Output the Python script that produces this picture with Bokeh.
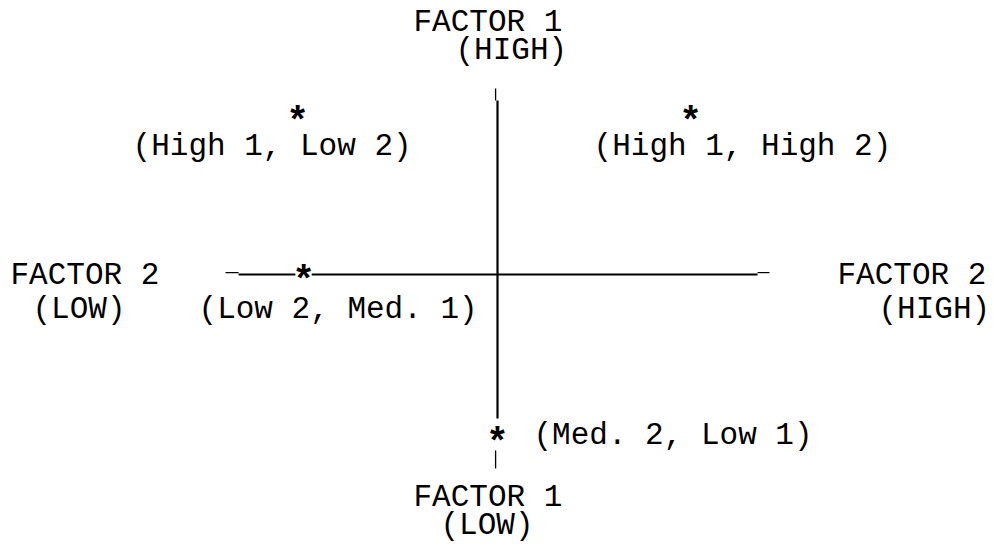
from bokeh.plotting import figure
from bokeh.models import ColumnDataSource, Range1d
from bokeh.core.properties import value
from bokeh.embed import file_html
from bokeh.resources import INLINE

# ---- data -------------------------------------------------------------
point_labels = ["(High 1, Low 2)", "(High 1, High 2)", "(Low 2, Med. 1)", "(Med. 2, Low 1)"]
factor2_scores = [-0.735, 0.71, -0.713, 0.0]      # horizontal (Factor 2)
factor1_scores = [0.837, 0.837, 0.0, -0.853]      # vertical (Factor 1)

pole_titles = ["FACTOR 1", "FACTOR 1", "FACTOR 2", "FACTOR 2"]
pole_levels = ["(HIGH)", "(LOW)", "(LOW)", "(HIGH)"]
pole_x = [0.0, 0.0, -1.0, 1.0]
pole_y = [0.979, -1.021, 0.0, 0.0]

# ---- layout / style -----------------------------------------------------
FONT = value("Liberation Mono")
FS = "31px"
W, H = 992, 545
PX_X, PX_Y = 272.0, 190.0          # pixels per unit
CX, CY = 497.0, 274.0              # centre in figure pixels

# label offsets in screen pixels (left edge, vertical centre)
label_dx = [-165, -97, -105, 36]
label_dy = [31, 31, 35, -1]
title_dx = [-84, -84, -215, 68]
title_dy = [-66, 29, 1, 1]
level_dx = [-42, -57, -193, 109]
level_dy = [-38, 57, 35, 35]

p = figure(width=W, height=H, output_backend="svg", toolbar_location=None,
           x_range=Range1d(-CX / PX_X, (W - CX) / PX_X),
           y_range=Range1d(-(H - CY) / PX_Y, CY / PX_Y),
           min_border=0, outline_line_color=None)
p.xaxis.visible = False
p.yaxis.visible = False
p.xgrid.visible = False
p.ygrid.visible = False

# axes of the factor space
gap = 0.04
sx3 = factor2_scores[2]
sy4 = factor1_scores[3]
p.segment(x0=[-0.952, sx3 + gap * 0.75], y0=[0, 0], x1=[sx3 - gap * 0.75, 0.956], y1=[0, 0],
          line_color="black", line_width=2.2)
p.segment(x0=[-1.0, 0.956], y0=[0.01, 0.01], x1=[-0.952, 1.0], y1=[0.01, 0.01],
          line_color="black", line_width=1.2)
p.segment(x0=[0], y0=[0.916], x1=[0], y1=[sy4 + 0.095], line_color="black", line_width=2.2)
p.segment(x0=[-0.007, -0.007], y0=[0.979, sy4 - 0.073], x1=[-0.007, -0.007], y1=[0.916, -1.021],
          line_color="black", line_width=1.3)

# points
pts = ColumnDataSource(dict(x=factor2_scores, y=factor1_scores, label=point_labels,
                            dx=label_dx, dy=label_dy, star=["*"] * len(point_labels)))
p.text(x="x", y="y", text="star", source=pts, text_font=FONT, text_font_size="38px",
       text_font_style="bold", text_align="center", text_baseline="middle", y_offset=7,
       text_color="black")
p.text(x="x", y="y", text="label", source=pts, x_offset="dx", y_offset="dy",
       text_font=FONT, text_font_size=FS, text_align="left", text_baseline="middle",
       text_color="black")

# pole titles
poles = ColumnDataSource(dict(x=pole_x, y=pole_y, title=pole_titles, level=pole_levels,
                              tdx=title_dx, tdy=title_dy, ldx=level_dx, ldy=level_dy))
p.text(x="x", y="y", text="title", source=poles, x_offset="tdx", y_offset="tdy",
       text_font=FONT, text_font_size=FS, text_align="left", text_baseline="middle",
       text_color="black")
p.text(x="x", y="y", text="level", source=poles, x_offset="ldx", y_offset="ldy",
       text_font=FONT, text_font_size=FS, text_align="left", text_baseline="middle",
       text_color="black")

open("out.html", "w").write(file_html(p, INLINE))
